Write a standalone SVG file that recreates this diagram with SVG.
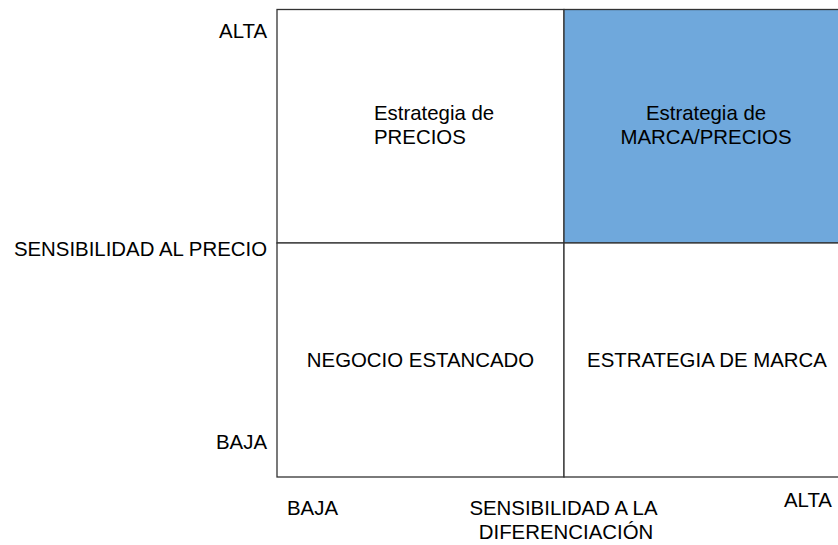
<svg xmlns="http://www.w3.org/2000/svg" width="838" height="545" viewBox="0 0 838 545">
<style>
text{font-family:"Liberation Sans",Arial,sans-serif;font-size:20.4px;fill:#000}
.c{text-anchor:middle}
.e{text-anchor:end}
.q{stroke:#333;stroke-width:1.3}
</style>
<rect width="838" height="545" fill="#fff"/>
<g id="q-tl"><rect class="q" x="277" y="9.5" width="287" height="233.5" fill="#fff"/>
<text x="374" y="120">Estrategia de</text><text x="374" y="144">PRECIOS</text></g>
<g id="q-tr"><rect class="q" x="564" y="9.5" width="276" height="233.5" fill="#6fa8dc"/>
<text class="c" x="706" y="120">Estrategia de</text><text class="c" x="706" y="144">MARCA/PRECIOS</text></g>
<g id="q-bl"><rect class="q" x="277" y="243" width="287" height="234" fill="#fff"/>
<text class="c" x="420.5" y="367">NEGOCIO ESTANCADO</text></g>
<g id="q-br"><rect class="q" x="564" y="243" width="276" height="234" fill="#fff"/>
<text class="c" x="707" y="367">ESTRATEGIA DE MARCA</text></g>
<g id="axes">
<text class="e" x="267" y="38">ALTA</text>
<text class="e" x="267" y="256">SENSIBILIDAD AL PRECIO</text>
<text class="e" x="267" y="449">BAJA</text>
<text x="287" y="515">BAJA</text>
<text class="c" x="563.5" y="515">SENSIBILIDAD A LA</text>
<text class="c" x="566" y="539">DIFERENCIACIÓN</text>
<text x="784" y="507">ALTA</text>
</g>
</svg>
